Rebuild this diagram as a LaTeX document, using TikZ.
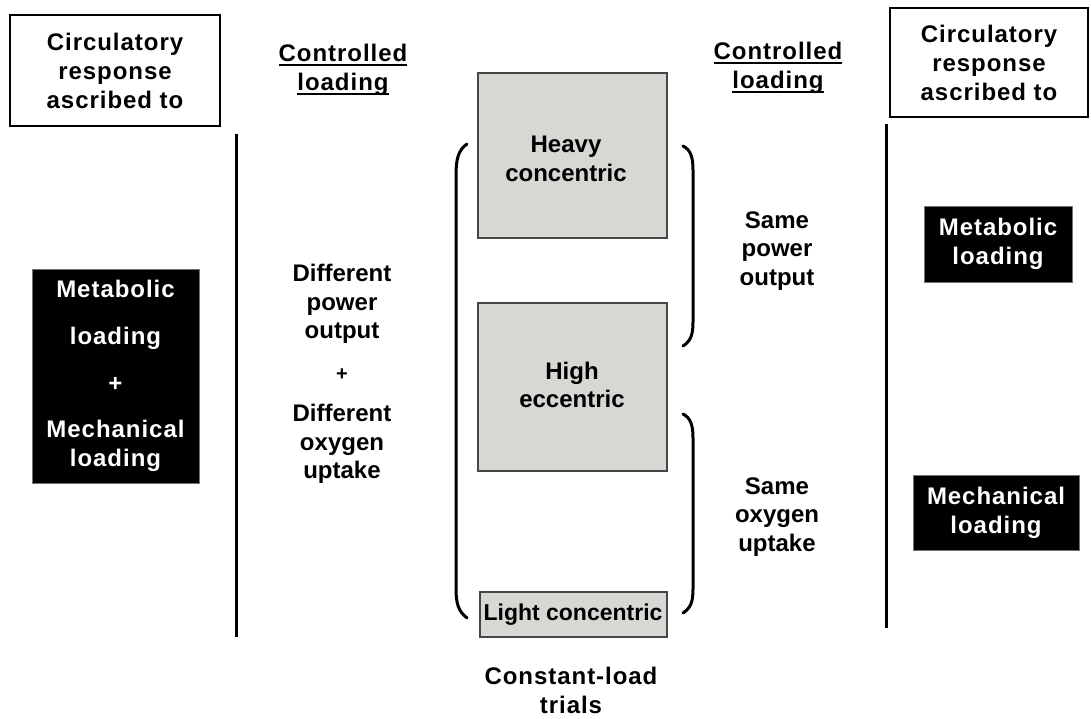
\documentclass[tikz,border=0pt]{standalone}
\usepackage{fontspec}
\setmainfont{Liberation Sans}
\newfontfamily\widefont{Liberation Sans}[LetterSpace=4]
\definecolor{boxgray}{RGB}{214,216,212}
\definecolor{edgegray}{RGB}{70,70,70}
% word with a thick rule under its baseline
\newcommand{\ulword}[1]{\setbox0\hbox{#1}\rlap{\vrule height -2.5pt depth 4.5pt width \wd0}\box0}
\tikzset{
  widetext/.style={align=center, inner sep=0pt, font=\widefont\bfseries\fontsize{24}{29}\selectfont},
  plaintext/.style={align=center, inner sep=0pt, font=\bfseries\fontsize{24}{28.5}\selectfont},
  whitebox/.style={widetext, draw=black, line width=1.3pt, fill=white},
  blackbox/.style={widetext, draw=black!55, line width=1pt, fill=black, text=white},
  graybox/.style={draw=edgegray, line width=1.3pt, fill=boxgray, inner sep=0pt},
  divider/.style={line width=3pt},
  bracket/.style={line width=3pt, line cap=round}
}
\begin{document}
\begin{tikzpicture}[x=1pt,y=-1pt]
\useasboundingbox[fill=white] (0,0) rectangle (1091,718);

% header boxes
\node[whitebox, minimum width=210pt, minimum height=111pt] (leftHead) at (115,70.5)
  {Circulatory\\response\\ascribed to};
\node[whitebox, minimum width=198pt, minimum height=109pt] (rightHead) at (989,62.5)
  {Circulatory\\response\\ascribed to};

% column titles
\node[widetext] (leftCtrl) at (343,70) {\ulword{Controlled}\\\ulword{loading}};
\node[widetext] (rightCtrl) at (778,68) {\ulword{Controlled}\\\ulword{loading}};

% dividing rules
\coordinate (lTop) at (236,134);
\coordinate (lBot) at (236,637);
\coordinate (rTop) at (886,124);
\coordinate (rBot) at (886,628);
\draw[divider] (lTop) -- (lBot);
\draw[divider] (rTop) -- (rBot);

% outcome boxes
\node[blackbox, minimum width=167pt, minimum height=214pt] (combined) at (115.5,376)
  {Metabolic\\[18pt]loading\\[18pt]+\\[17pt]Mechanical\\loading};
\node[blackbox, minimum width=148pt, minimum height=76pt] (metab) at (998,244)
  {Metabolic\\loading};
\node[blackbox, minimum width=166pt, minimum height=75pt] (mech) at (996,512.5)
  {Mechanical\\loading};

% trial boxes
\node[graybox, minimum width=189pt, minimum height=165pt] (heavy) at (572.5,155.5) {};
\node[graybox, minimum width=189pt, minimum height=168pt] (eccentric) at (572.5,387) {};
\node[graybox, minimum width=187pt, minimum height=45pt] (light) at (573.5,614.5) {};
\node[plaintext] (heavyTxt) at (566,159) {Heavy\\concentric};
\node[plaintext] (eccTxt) at (572,385) {High\\eccentric};
\node[plaintext, font=\bfseries\fontsize{23}{28}\selectfont] (lightTxt) at (573,615) {Light concentric};

\node[widetext] (trials) at (571,690) {Constant-load\\trials};

% middle annotations
\node[plaintext] (diffTxt) at (342,374)
  {Different\\power\\output\\[13pt]{\fontsize{20}{20}\selectfont +}\\[13pt]Different\\oxygen\\uptake};
\node[plaintext] (samePow) at (777,251) {Same\\power\\output};
\node[plaintext] (sameOx) at (777,517) {Same\\oxygen\\uptake};

% grouping brackets
\draw[bracket] (467,144) .. controls (458,150) and (456,160) .. (456,175)
  -- (456,588) .. controls (456,603) and (458,611) .. (467,618);
\draw[bracket] (683,146) .. controls (691,150) and (693,158) .. (693,170)
  -- (693,322) .. controls (693,334) and (691,341) .. (683,346);
\draw[bracket] (683,414) .. controls (691,418) and (693,426) .. (693,438)
  -- (693,589) .. controls (693,601) and (691,608) .. (683,613);
\end{tikzpicture}
\end{document}
